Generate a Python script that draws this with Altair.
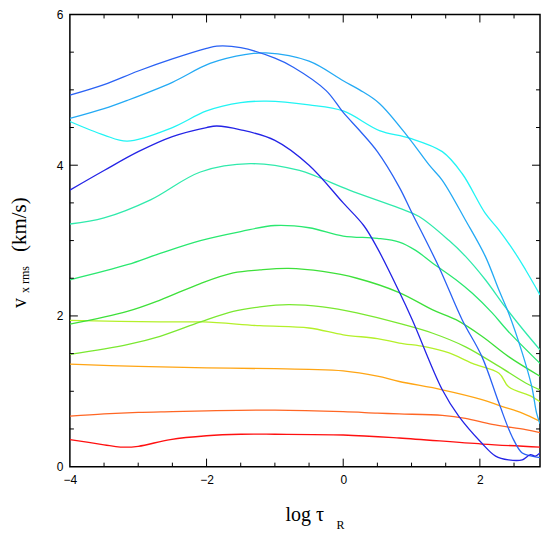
import altair as alt
import pandas as pd

# ---- data ----
series_names = ["red", "orangered", "orange", "yellowgreen", "greenlow", "greenmid",
                "greenbright", "teal", "cyan", "lightblue", "royalblue", "darkblue"]
series_colors = ["#ff1010", "#ff6624", "#ffa514", "#b4f02a", "#7ae830", "#3ee03a",
                 "#2ae870", "#30eaac", "#22f4f4", "#24aaf4", "#2a62f4", "#2424e6"]

red_x = [-4, -3.5, -3.26, -3, -2.53, -2, -1.5, -1, 0, 0.82, 2.03, 2.88]
red_y = [0.36, 0.29, 0.26, 0.27, 0.36, 0.41, 0.43, 0.43, 0.42, 0.38, 0.30, 0.26]

orangered_x = [-4, -3.5, -3, -2.5, -2, -1, 0, 0.5, 0.82, 1.45, 1.79, 2.18, 2.67, 2.88]
orangered_y = [0.67, 0.70, 0.72, 0.73, 0.74, 0.75, 0.73, 0.71, 0.70, 0.68, 0.64, 0.56, 0.49, 0.45]

orange_x = [-4, -3, -2, -1, -0.5, 0, 0.5, 0.82, 1.45, 2.03, 2.32, 2.62, 2.88]
orange_y = [1.36, 1.33, 1.31, 1.30, 1.29, 1.27, 1.20, 1.13, 1.02, 0.89, 0.80, 0.71, 0.60]

yellowgreen_x = [-4, -2.68, -2.05, -1.22, -0.5, 0, 0.5, 0.82, 1.21, 1.55, 1.89, 2.28, 2.42, 2.76, 2.88]
yellowgreen_y = [1.94, 1.92, 1.92, 1.87, 1.84, 1.75, 1.70, 1.64, 1.59, 1.51, 1.37, 1.24, 1.06, 0.93, 0.86]

greenlow_x = [-4, -3.16, -2.68, -2.09, -1.61, -1.22, -0.8, -0.3, 0.2, 0.82, 1.31, 1.79, 2.28, 2.67, 2.88]
greenlow_y = [1.49, 1.62, 1.73, 1.92, 2.06, 2.12, 2.15, 2.12, 2.04, 1.90, 1.77, 1.59, 1.33, 1.11, 1.02]

greenmid_x = [-4, -3.16, -2.68, -2.09, -1.61, -1.22, -0.8, -0.3, 0.2, 0.82, 1.31, 1.65, 2.03, 2.42, 2.88]
greenmid_y = [1.89, 2.06, 2.21, 2.43, 2.57, 2.61, 2.63, 2.59, 2.50, 2.31, 2.08, 1.95, 1.73, 1.46, 1.20]

greenbright_x = [-4, -3.16, -2.68, -2.09, -1.5, -1, -0.5, 0, 0.5, 0.82, 1.06, 1.31, 1.65, 1.89, 2.18, 2.4, 2.88]
greenbright_y = [2.48, 2.68, 2.83, 3.0, 3.12, 3.20, 3.17, 3.06, 3.03, 2.98, 2.87, 2.70, 2.48, 2.30, 2.04, 1.81, 1.37]

teal_x = [-4, -3.5, -2.82, -2.09, -1.36, -0.64, -0.39, 0.09, 0.82, 1.11, 1.55, 1.79, 2.08, 2.37, 2.64, 2.88]
teal_y = [3.22, 3.30, 3.54, 3.91, 4.02, 3.93, 3.85, 3.67, 3.43, 3.32, 3.00, 2.79, 2.48, 2.12, 1.81, 1.55]

cyan_x = [-4, -3.5, -3.16, -2.5, -2, -1.5, -1.12, -0.5, 0, 0.53, 0.97, 1.45, 1.74, 2.08, 2.28, 2.52, 2.67, 2.88]
cyan_y = [4.58, 4.40, 4.32, 4.50, 4.72, 4.83, 4.85, 4.80, 4.72, 4.46, 4.36, 4.18, 3.89, 3.36, 3.14, 2.83, 2.61, 2.28]

lightblue_x = [-4, -3.5, -3.16, -2.5, -1.95, -1.42, -1.13, -0.5, 0, 0.24, 0.53, 0.97, 1.26, 1.45, 1.79, 2.08, 2.28, 2.42, 2.62, 2.76, 2.83, 2.88]
lightblue_y = [4.62, 4.75, 4.86, 5.10, 5.35, 5.47, 5.49, 5.38, 5.12, 5.00, 4.82, 4.35, 4.00, 3.80, 3.27, 2.79, 2.34, 2.04, 1.51, 1.06, 0.71, 0.57]

royalblue_x = [-4, -3.5, -3, -2.5, -2, -1.85, -1.5, -1, -0.73, -0.25, 0, 0.24, 0.5, 0.82, 1.01, 1.4, 1.74, 2.03, 2.28, 2.47, 2.62, 2.76, 2.88]
royalblue_y = [4.93, 5.07, 5.25, 5.41, 5.55, 5.58, 5.56, 5.42, 5.30, 4.99, 4.70, 4.46, 4.18, 3.71, 3.36, 2.65, 1.95, 1.46, 0.84, 0.40, 0.18, 0.14, 0.12]

darkblue_x = [-4, -3.5, -3, -2.5, -2, -1.85, -1.5, -1, -0.5, 0, 0.3, 0.5, 0.82, 1.01, 1.45, 1.69, 2.03, 2.23, 2.42, 2.62, 2.74, 2.81, 2.88]
darkblue_y = [3.67, 3.93, 4.18, 4.38, 4.50, 4.52, 4.47, 4.33, 4.00, 3.50, 3.20, 2.90, 2.32, 1.95, 1.02, 0.67, 0.31, 0.14, 0.09, 0.09, 0.16, 0.14, 0.18]

x_minor_ticks = [-3.5, -3, -2.5, -1.5, -1, -0.5, 0.5, 1, 1.5, 2.5]
x_major_ticks = [-4, -2, 0, 2]
y_minor_ticks = [0.5, 1, 1.5, 2.5, 3, 3.5, 4.5, 5, 5.5]
y_major_ticks = [0, 2, 4, 6]

# ---- build table ----
xs = [red_x, orangered_x, orange_x, yellowgreen_x, greenlow_x, greenmid_x,
      greenbright_x, teal_x, cyan_x, lightblue_x, royalblue_x, darkblue_x]
ys = [red_y, orangered_y, orange_y, yellowgreen_y, greenlow_y, greenmid_y,
      greenbright_y, teal_y, cyan_y, lightblue_y, royalblue_y, darkblue_y]
rows = []
for name, xv, yv in zip(series_names, xs, ys):
    for i, (a, b) in enumerate(zip(xv, yv)):
        rows.append({"series": name, "x": a, "y": b, "i": i})
df = pd.DataFrame(rows)

W, H = 471, 453
XMIN, XMAX = -4, 2.88
xscale = alt.Scale(domain=[XMIN, XMAX], nice=False, zero=False)
yscale = alt.Scale(domain=[0, 6], nice=False, zero=False)

axis_common = dict(tickSize=0, domain=False, grid=False, labelFont="Liberation Sans",
                   labelFontSize=12, labelColor="black", labelFlush=False,
                   labelOverlap=False, title=None, format="d")

lines = alt.Chart(df).mark_line(strokeWidth=1.3, interpolate="catmull-rom", clip=True).encode(
    x=alt.X("x:Q", scale=xscale, axis=alt.Axis(values=x_major_ticks, labelPadding=8, **axis_common)),
    y=alt.Y("y:Q", scale=yscale, axis=alt.Axis(values=y_major_ticks, labelPadding=7, **axis_common)),
    color=alt.Color("series:N", scale=alt.Scale(domain=series_names, range=series_colors), legend=None),
    detail="series:N",
    order="i:Q",
)

xmin_df = pd.DataFrame({"t": x_minor_ticks})
xmaj_df = pd.DataFrame({"t": x_major_ticks[1:]})
ymin_df = pd.DataFrame({"t": y_minor_ticks})
ymaj_df = pd.DataFrame({"t": y_major_ticks[1:-1]})

def xticks(d, L):
    bot = alt.Chart(d).mark_rule(color="black", strokeWidth=1).encode(
        x=alt.X("t:Q", scale=xscale), y=alt.value(H), y2=alt.value(H - L))
    top = alt.Chart(d).mark_rule(color="black", strokeWidth=1).encode(
        x=alt.X("t:Q", scale=xscale), y=alt.value(0), y2=alt.value(L))
    return [bot, top]

def yticks(d, L):
    left = alt.Chart(d).mark_rule(color="black", strokeWidth=1).encode(
        y=alt.Y("t:Q", scale=yscale), x=alt.value(0), x2=alt.value(L))
    right = alt.Chart(d).mark_rule(color="black", strokeWidth=1).encode(
        y=alt.Y("t:Q", scale=yscale), x=alt.value(W), x2=alt.value(W - L))
    return [left, right]

ticks = xticks(xmin_df, 4) + xticks(xmaj_df, 8) + yticks(ymin_df, 4) + yticks(ymaj_df, 8)

serif = "Liberation Serif"
def label(text, x, y, size, angle=0):
    return alt.Chart(pd.DataFrame({"s": [text]})).mark_text(
        font=serif, fontSize=size, align="left", baseline="alphabetic", angle=angle, color="black"
    ).encode(text="s:N", x=alt.value(x), y=alt.value(y))

titles = [
    label("log  τ", 216, 507, 20),
    label("R", 267, 515, 12),
    label("v", -44, 294, 20, 270),
    label("x rms", -41, 279, 12, 270),
    label("(km/s)", -44, 238, 21, 270),
]

chart = alt.layer(lines, *ticks, *titles).properties(
    width=W, height=H,
    autosize=alt.AutoSizeParams(type="none"),
    padding={"left": 62, "top": 6, "right": 6, "bottom": 80},
).configure_view(stroke="black", strokeWidth=1.5)

chart.save("out.html", embed_options={"renderer": "svg", "actions": False})
